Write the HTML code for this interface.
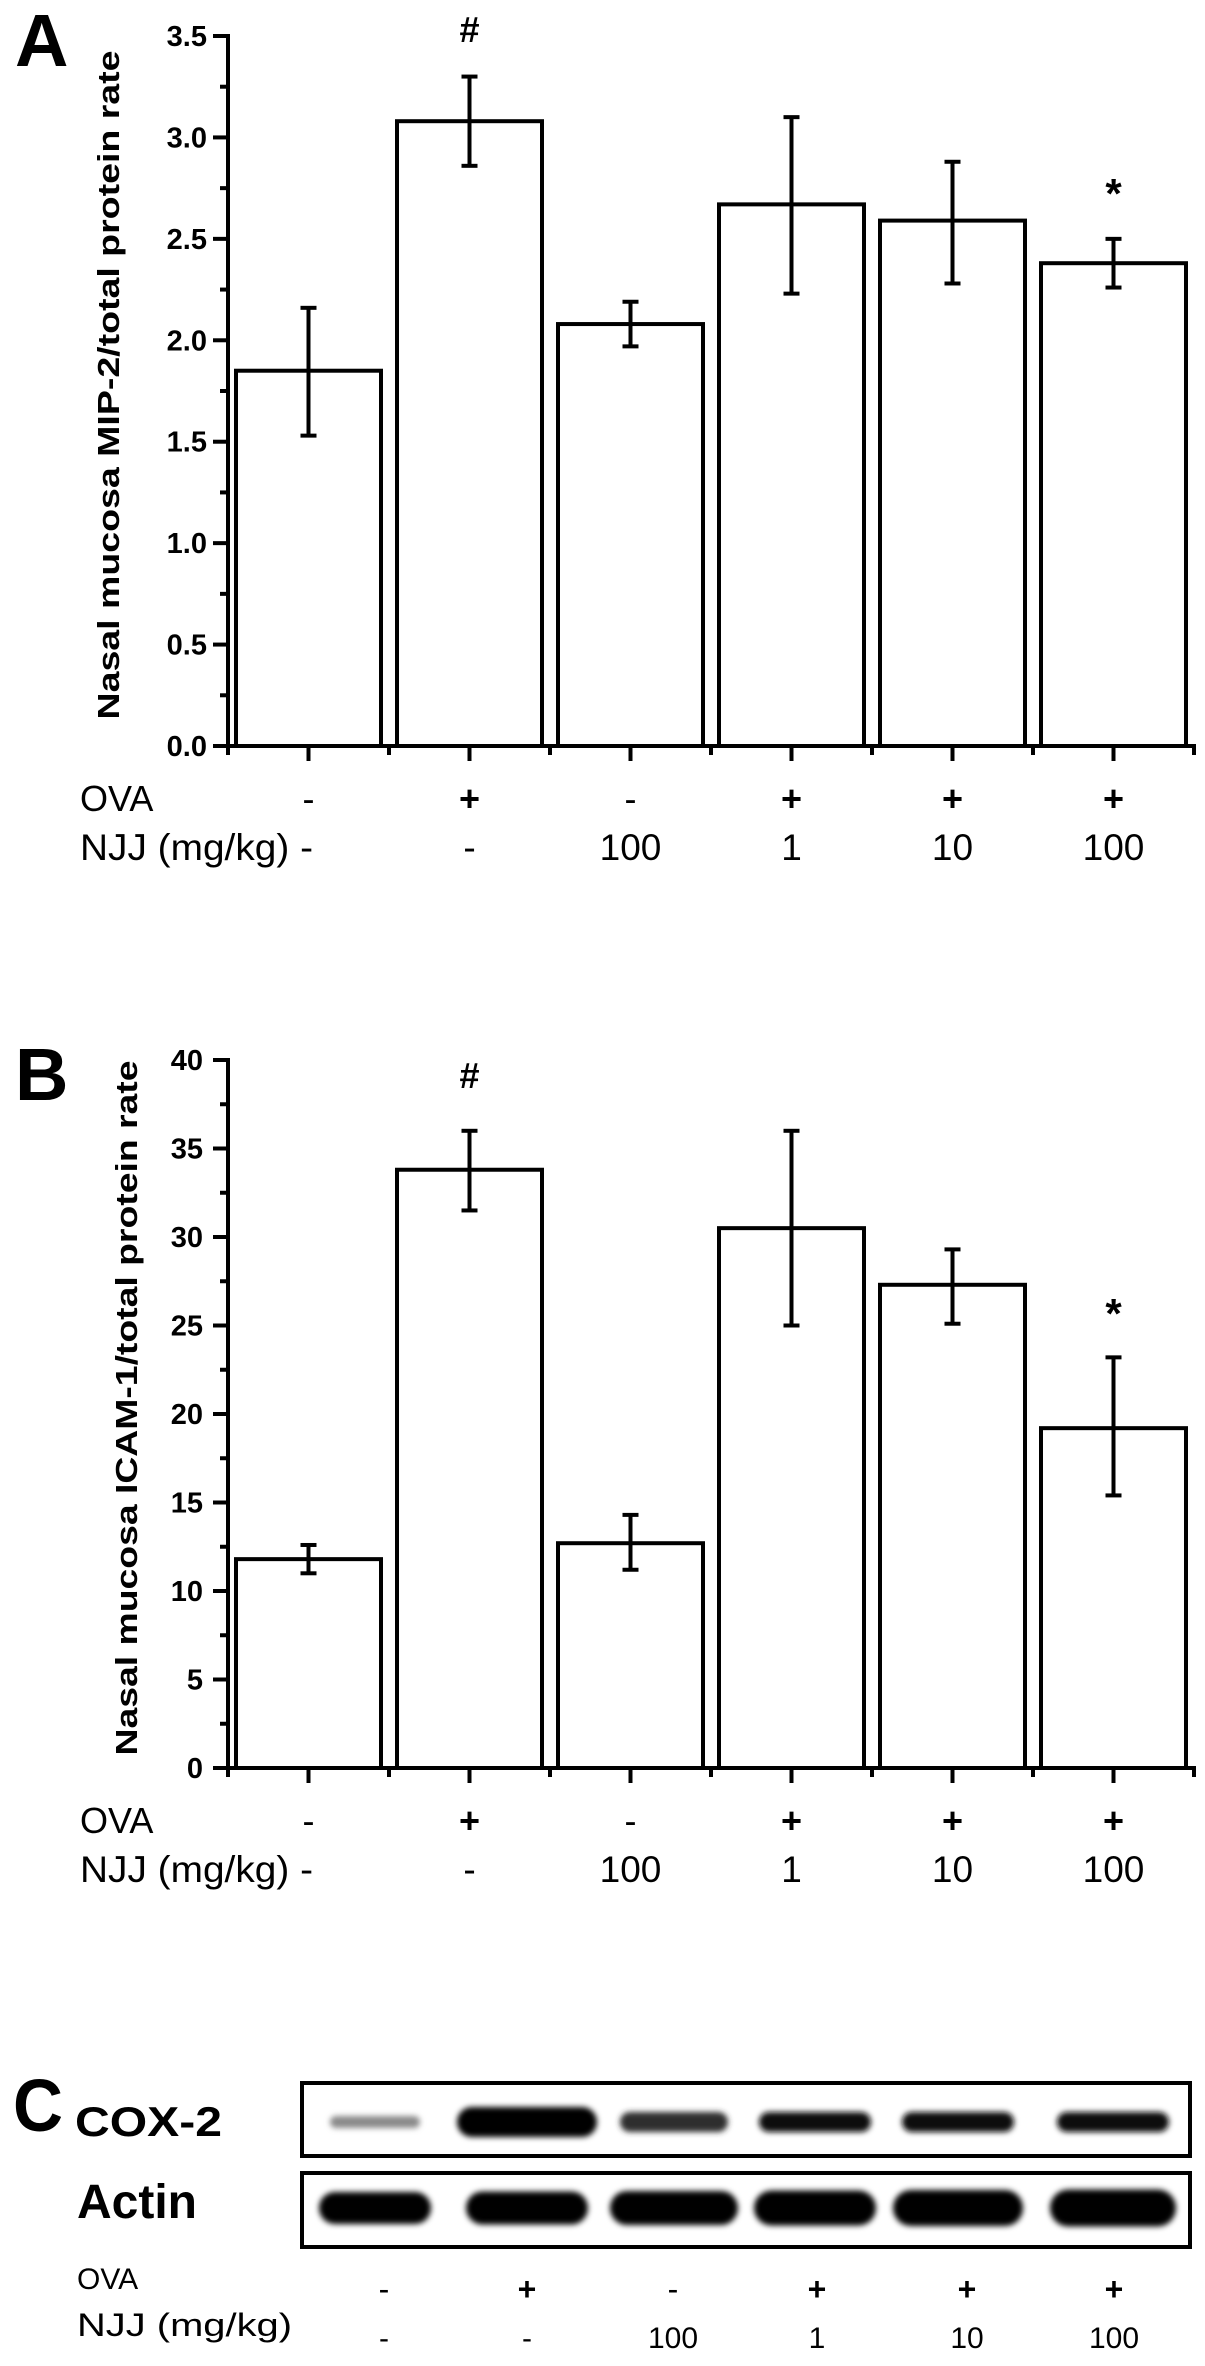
<!DOCTYPE html>
<html><head><meta charset="utf-8">
<style>
html,body{margin:0;padding:0;background:#fff;}
svg{display:block;}
text{font-family:"Liberation Sans",Arial,sans-serif;fill:#000;}
</style></head>
<body>
<svg id="fig" width="1205" height="2366" viewBox="0 0 1205 2366" xmlns="http://www.w3.org/2000/svg">
<defs>
<filter id="blur" x="-20%" y="-80%" width="140%" height="260%"><feGaussianBlur stdDeviation="3"/></filter>
</defs>
<g id="panelA"></g>
<g id="panelB"></g>
<g id="panelC"></g>
</svg>
<script>
const categories = ["g1","g2","g3","g4","g5","g6"];
const ovaLabels = ["-","+","-","+","+","+"];
const njjLabels = ["-","-","100","1","10","100"];

const mipValues = [1.85, 3.08, 2.08, 2.67, 2.59, 2.38];
const mipUpper  = [2.16, 3.30, 2.19, 3.10, 2.88, 2.50];
const mipLower  = [1.53, 2.86, 1.97, 2.23, 2.28, 2.26];
const mipTicks  = ["0.0","0.5","1.0","1.5","2.0","2.5","3.0","3.5"];
const mipMarks  = ["", "#", "", "", "", "*"];

const icamValues = [11.8, 33.8, 12.7, 30.5, 27.3, 19.2];
const icamUpper  = [12.6, 36.0, 14.3, 36.0, 29.3, 23.2];
const icamLower  = [11.0, 31.5, 11.2, 25.0, 25.1, 15.4];
const icamTicks  = ["0","5","10","15","20","25","30","35","40"];
const icamMarks  = ["", "#", "", "", "", "*"];

const coxIntensity   = [0.4, 1.0, 0.8, 0.95, 0.93, 0.93];
const coxWidth       = [90, 140, 108, 112, 112, 112];
const actinIntensity = [1.0, 1.0, 1.0, 1.0, 1.0, 1.0];
const actinWidth     = [112, 122, 128, 122, 130, 126];

const NS = "http://www.w3.org/2000/svg";
function mk(tag, attrs, parent){
  const e = document.createElementNS(NS, tag);
  for (const k in attrs) e.setAttribute(k, attrs[k]);
  parent.appendChild(e);
  return e;
}

const X0 = 228, SLOT = 161, BARW = 145;
function xCenter(i){ return X0 + (i + 0.5) * SLOT; }

function drawChart(g, cfg){
  const yScale = v => cfg.zeroY - (v / cfg.maxV) * (cfg.zeroY - cfg.topY);
  const L = mk("text", {x:15, y:cfg.letterY, "font-size":74, "font-weight":"bold"}, g);
  L.textContent = cfg.letter;
  
  
  const tcY = (cfg.topY + cfg.zeroY) / 2 - 6;
  const T = mk("text", {x:0, y:0, "font-size":31, "font-weight":"bold", "text-anchor":"middle",
    transform:`translate(${cfg.titleX},${tcY}) rotate(-90)`, textLength:cfg.titleLen, lengthAdjust:"spacingAndGlyphs"}, g);
  T.textContent = cfg.title;
  
  
  for (let i = 0; i < categories.length; i++){
    const v = cfg.values[i], cx = xCenter(i);
    const top = yScale(v);
    const r = mk("rect", {x:cx - BARW/2, y:top, width:BARW, height:cfg.zeroY - top, fill:"#fff", stroke:"#000", "stroke-width":4}, g);
    
    
    const yu = yScale(cfg.upper[i]), yl = yScale(cfg.lower[i]);
    const eb = mk("g", {stroke:"#000", "stroke-width":4}, g);
    
    
    mk("line", {x1:cx, x2:cx, y1:yu, y2:yl}, eb);
    mk("line", {x1:cx-8, x2:cx+8, y1:yu, y2:yu}, eb);
    mk("line", {x1:cx-8, x2:cx+8, y1:yl, y2:yl}, eb);
    if (cfg.marks[i]){
      const isHash = cfg.marks[i] === "#";
      const my = isHash ? cfg.hashY : cfg.starY;
      const m = mk("text", {x:cx, y:my, "font-size":isHash?36:42, "font-weight":"bold", "text-anchor":"middle"}, g);
      m.textContent = cfg.marks[i];
      
      
    }
  }
  const ax = mk("g", {stroke:"#000", "stroke-width":4}, g);
  
  
  mk("line", {x1:X0, x2:X0, y1:cfg.topY - 2, y2:cfg.zeroY + 9}, ax);
  mk("line", {x1:X0 - 15, x2:X0 + 6 * SLOT + 2, y1:cfg.zeroY, y2:cfg.zeroY}, ax);
  const nT = cfg.ticks.length;
  for (let k = 0; k < nT; k++){
    const v = cfg.maxV * k / (nT - 1);
    const y = yScale(v);
    mk("line", {x1:X0 - 15, x2:X0, y1:y, y2:y}, ax);
    if (k < nT - 1){
      const ym = yScale(v + cfg.maxV / (nT - 1) / 2);
      mk("line", {x1:X0 - 8, x2:X0, y1:ym, y2:ym}, ax);
    }
    const t = mk("text", {x:cfg.tickRight, y:y + 10, "font-size":29, "font-weight":"bold", "text-anchor":"end"}, g);
    t.textContent = cfg.ticks[k];
    
    
  }
  for (let i = 0; i <= 6; i++){
    const xb = X0 + i * SLOT;
    mk("line", {x1:xb, x2:xb, y1:cfg.zeroY, y2:cfg.zeroY + 9}, ax);
  }
  for (let i = 0; i < 6; i++){
    const cx = xCenter(i);
    mk("line", {x1:cx, x2:cx, y1:cfg.zeroY, y2:cfg.zeroY + 15}, ax);
  }
  const ova = mk("text", {x:80, y:cfg.zeroY + 65, "font-size":36}, g);
  ova.textContent = "OVA";
  
  
  const njj = mk("text", {x:80, y:cfg.zeroY + 114, "font-size":37, textLength:233, lengthAdjust:"spacingAndGlyphs"}, g);
  njj.textContent = "NJJ (mg/kg) -";
  
  
  for (let i = 0; i < 6; i++){
    const cx = xCenter(i);
    const o = mk("text", {x:cx, y:cfg.zeroY + 65, "font-size":36, "font-weight":ovaLabels[i]==="+"?"bold":"normal", "text-anchor":"middle"}, g);
    o.textContent = ovaLabels[i];
    
    
    if (i > 0){
      const n = mk("text", {x:cx, y:cfg.zeroY + 114, "font-size":37, "text-anchor":"middle"}, g);
      n.textContent = njjLabels[i];
      
      
    }
  }
}

drawChart(document.getElementById("panelA"), {
  letter:"A", letterY:66, topY:36, zeroY:746, maxV:3.5,
  values:mipValues, upper:mipUpper, lower:mipLower, ticks:mipTicks, marks:mipMarks,
  title:"Nasal mucosa MIP-2/total protein rate", titleX:119, titleLen:669,
  tickRight:207, hashY:42, starY:208
});
drawChart(document.getElementById("panelB"), {
  letter:"B", letterY:1100, topY:1060, zeroY:1768, maxV:40,
  values:icamValues, upper:icamUpper, lower:icamLower, ticks:icamTicks, marks:icamMarks,
  title:"Nasal mucosa ICAM-1/total protein rate", titleX:137, titleLen:695,
  tickRight:203, hashY:1088, starY:1328
});

(function(){
  const g = document.getElementById("panelC");
  const bandX = [375, 527, 674, 815, 958, 1113];
  const c = mk("text", {x:13, y:2131, "font-size":74, "font-weight":"bold", textLength:50, lengthAdjust:"spacingAndGlyphs"}, g);
  c.textContent = "C";
  
  
  const cox = mk("text", {x:75, y:2136, "font-size":42, "font-weight":"bold", textLength:147, lengthAdjust:"spacingAndGlyphs"}, g);
  cox.textContent = "COX-2";
  
  
  const act = mk("text", {x:77, y:2218, "font-size":48, "font-weight":"bold", textLength:120, lengthAdjust:"spacingAndGlyphs"}, g);
  act.textContent = "Actin";
  
  
  const b1 = mk("rect", {x:302, y:2083, width:888, height:73, fill:"#fff", stroke:"#000", "stroke-width":4}, g);
  
  
  const b2 = mk("rect", {x:302, y:2173, width:888, height:74, fill:"#fff", stroke:"#000", "stroke-width":4}, g);
  
  
  for (let i = 0; i < 6; i++){
    const ci = coxIntensity[i];
    const hC = ci < 0.5 ? 12 : (i === 1 ? 30 : 20);
    const shade = Math.round(255 * (1 - ci) * 0.9);
    const e1 = mk("rect", {x:bandX[i] - coxWidth[i]/2, y:2122 - hC/2, width:coxWidth[i], height:hC, rx:hC/2, fill:`rgb(${shade},${shade},${shade})`, filter:"url(#blur)"}, g);
    
    
    const ai = actinIntensity[i];
    const sa = Math.round(255 * (1 - ai));
    const hA = 32 + i;
    const e2 = mk("rect", {x:bandX[i] - actinWidth[i]/2, y:2208 - hA/2, width:actinWidth[i], height:hA, rx:hA/2, fill:`rgb(${sa},${sa},${sa})`, filter:"url(#blur)"}, g);
    
    
  }
  const o = mk("text", {x:77, y:2289, "font-size":30}, g);
  o.textContent = "OVA";
  
  
  const n = mk("text", {x:77, y:2336, "font-size":32, textLength:215, lengthAdjust:"spacingAndGlyphs"}, g);
  n.textContent = "NJJ (mg/kg)";
  
  
  const labX = [384, 527, 673, 817, 967, 1114];
  for (let i = 0; i < 6; i++){
    const t1 = mk("text", {x:labX[i], y:2300, "font-size":32, "font-weight":ovaLabels[i]==="+"?"bold":"normal", "text-anchor":"middle"}, g);
    t1.textContent = ovaLabels[i];
    
    
    const t2 = mk("text", {x:labX[i], y:2348, "font-size":30, "text-anchor":"middle"}, g);
    t2.textContent = njjLabels[i];
    
    
  }
})();
</script>
</body></html>
